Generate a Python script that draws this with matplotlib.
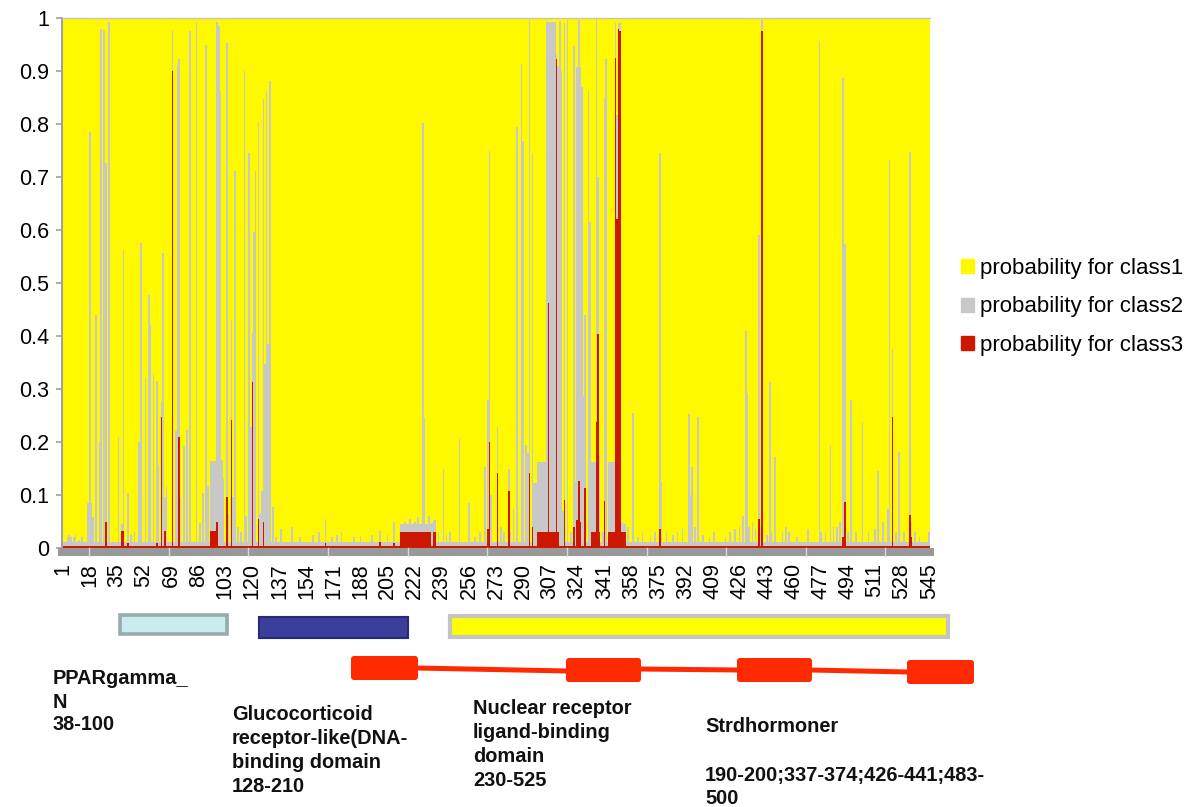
import numpy as np
import matplotlib
matplotlib.use("Agg")
import matplotlib.pyplot as plt
from matplotlib.patches import Rectangle, FancyBboxPatch
import matplotlib.transforms as mtransforms

plt.rcParams['font.family'] = ['Liberation Sans', 'DejaVu Sans']

# ---------------- data ----------------
n_positions = 545
tick_values = list(range(1, 546, 17))
series_names = ["probability for class1", "probability for class2", "probability for class3"]

# typical level of (class2 + class3) and class3 between the spikes
base_total = 0.012
base_red = 0.003

# flat runs: (first pos, last pos, class2+class3, class3)
block_start = [94, 213, 234, 299, 305, 333, 344, 353]
block_end = [97, 232, 235, 304, 310, 335, 347, 354]
block_total = [0.165, 0.045, 0.053, 0.163, 0.993, 0.163, 0.163, 0.045]
block_red = [0.033, 0.03, 0.03, 0.03, 0.03, 0.03, 0.03, 0.03]

# single positions: class2 + class3 (i.e. 1 - class1)
spike_pos = [4, 5, 6, 8, 9, 11, 13, 17, 18, 19, 20, 22, 24, 25, 27, 28, 30, 36, 38, 39, 42, 44, 46,
             49, 50, 53, 55, 56, 58, 60, 61, 63, 64, 65, 66, 70, 72, 73, 74, 75, 77, 79, 81, 85,
             87, 89, 91, 92, 98, 99, 100, 101, 102, 104, 105, 107, 108, 109, 111, 113, 115, 116,
             118, 119, 120, 121, 122, 124, 125, 126, 127, 128, 129, 130, 131, 133, 135,
             138, 145, 150, 158, 162, 166, 170, 173, 176, 184, 188, 195, 200, 205, 209,
             216, 219, 222, 224, 227, 228, 231, 233, 237, 240, 242, 244, 250, 256, 260, 263, 266,
             268, 269, 270, 274, 276, 278, 281, 282, 284, 286, 289, 290, 292, 293, 294, 296, 297,
             298, 311, 312, 313, 314, 315, 316, 318, 320, 322, 323, 324, 325, 326, 327, 328, 329,
             331, 332, 336, 337, 338, 340, 341, 342, 348, 349, 350, 351, 352, 356, 359, 362, 365,
             370, 373, 376, 377, 380, 384, 387, 390, 394, 395, 396, 398, 400, 403, 407, 410, 417,
             420, 423, 426, 428, 430, 431, 432, 434, 436, 438, 439, 440, 443, 445, 446, 448, 453,
             455, 457, 462, 469, 476, 477, 480, 483, 485, 487, 489, 491, 492, 494, 496, 499, 503,
             507, 511, 513, 516, 519, 520, 522, 524, 526, 529, 533, 534, 536, 539, 545]
spike_total = [0.02, 0.025, 0.02, 0.02, 0.025, 0.015, 0.02, 0.085, 0.784, 0.085, 0.058, 0.44, 0.20,
               0.98, 0.978, 0.727, 0.993, 0.21, 0.046, 0.563, 0.104, 0.025, 0.03,
               0.20, 0.575, 0.32, 0.477, 0.42, 0.327, 0.316, 0.156, 0.275, 0.557, 0.097, 0.115,
               0.978, 0.22, 0.912, 0.922, 0.097, 0.193, 0.222, 0.975, 0.993,
               0.048, 0.104, 0.95, 0.117, 0.993, 0.985, 0.863, 0.166, 0.13, 0.952, 0.064, 0.43,
               0.097, 0.711, 0.04, 0.03, 0.90, 0.06,
               0.746, 0.229, 0.406, 0.597, 0.712, 0.803, 0.065, 0.107, 0.847, 0.347, 0.862,
               0.385, 0.882, 0.078, 0.02,
               0.036, 0.04, 0.02, 0.025, 0.03, 0.055, 0.02, 0.025, 0.03, 0.02, 0.022, 0.025,
               0.032, 0.025, 0.05,
               0.05, 0.055, 0.05, 0.058, 0.802, 0.246, 0.061, 0.048, 0.03, 0.15, 0.025, 0.03,
               0.206, 0.085, 0.02, 0.03, 0.152,
               0.28, 0.75, 0.10, 0.228, 0.04, 0.03, 0.15, 0.03, 0.074, 0.794, 0.913, 0.767,
               0.194, 0.18, 0.997, 0.745, 0.123,
               0.123, 0.93, 0.91, 0.995, 0.90, 0.07, 0.991, 0.997, 0.03, 0.947, 0.127, 0.908,
               0.997, 0.908, 0.87, 0.286, 0.44,
               0.862, 0.616, 0.998, 0.70, 0.174, 0.03, 0.849, 0.922, 0.99, 0.817, 0.99, 0.99,
               0.05, 0.04, 0.254, 0.02, 0.03,
               0.025, 0.03, 0.746, 0.125, 0.03, 0.025, 0.03, 0.035, 0.252, 0.10, 0.153, 0.04,
               0.247, 0.025, 0.02, 0.03, 0.02,
               0.03, 0.035, 0.04, 0.06, 0.41, 0.293, 0.04, 0.05, 0.035, 0.59, 0.04, 0.997,
               0.025, 0.314, 0.03, 0.172, 0.03,
               0.04, 0.03, 0.02, 0.035, 0.957, 0.03, 0.03, 0.194, 0.04, 0.04, 0.05, 0.886,
               0.574, 0.03, 0.279, 0.03, 0.238,
               0.03, 0.035, 0.145, 0.05, 0.073, 0.732, 0.375, 0.03, 0.181, 0.03, 0.748, 0.05,
               0.03, 0.02, 0.03]

# single positions: class3
red_pos = [28, 38, 39, 42, 60, 63, 65, 70, 74, 98, 104, 107, 120, 124, 127, 166, 200, 209, 227,
           228, 268, 269, 274, 281, 294, 296, 306, 311, 312, 316, 322, 324, 325, 326, 329, 336,
           337, 338, 341, 348, 349, 350, 351, 352, 376, 438, 440, 491, 492, 522, 533, 534]
red_val = [0.05, 0.033, 0.033, 0.01, 0.01, 0.247, 0.033, 0.90, 0.209, 0.05, 0.097, 0.242, 0.313,
           0.055, 0.05, 0.01, 0.012, 0.01, 0.03,
           0.03, 0.035, 0.20, 0.141, 0.108, 0.141, 0.04, 0.462, 0.922, 0.03, 0.09, 0.04, 0.053,
           0.127, 0.05, 0.114, 0.238,
           0.404, 0.03, 0.089, 0.925, 0.62, 0.98, 0.975, 0.03, 0.036, 0.055, 0.975, 0.02, 0.086,
           0.247, 0.063, 0.02]

# ---------------- assemble series ----------------
positions = np.arange(1, n_positions + 1)
total = np.full(n_positions, base_total)
class3 = np.full(n_positions, base_red)
for a, b, t, r in zip(block_start, block_end, block_total, block_red):
    total[a - 1:b] = t
    class3[a - 1:b] = r
for p, t in zip(spike_pos, spike_total):
    total[p - 1] = t
for p, r in zip(red_pos, red_val):
    class3[p - 1] = r
class2 = np.clip(total - class3, 0, None)
class1 = 1 - class3 - class2

c_yellow = "#fff900"
c_gray = "#c8c8c8"
c_red = "#cc1800"

# ---------------- figure ----------------
W, H = 1200, 807
fig = plt.figure(figsize=(W / 100, H / 100), dpi=100)
ax = fig.add_axes([62 / W, 1 - 548 / H, (930 - 62) / W, 530 / H])

ax.bar(positions, class3, width=1.0, color=c_red, linewidth=0, antialiased=False)
ax.bar(positions, class2, width=1.0, bottom=class3, color=c_gray, linewidth=0, antialiased=False)
ax.bar(positions, class1, width=1.0, bottom=class3 + class2, color=c_yellow, linewidth=0,
       antialiased=False)

ax.set_xlim(0.5, n_positions + 0.5)
ax.set_ylim(0, 1)

yt = np.round(np.arange(0, 1.001, 0.1), 1)
ax.set_yticks(yt)
ax.set_yticklabels(["0" if v == 0 else ("1" if v == 1 else f"{v:.1f}") for v in yt])
ax.tick_params(axis='y', length=4, width=1.2, color="#a0a0a0", pad=5, labelsize=15.5)

ax.set_xticks(tick_values)
ax.set_xticklabels([str(v) for v in tick_values])
ax.tick_params(axis='x', length=0, pad=8, labelsize=15.5, labelrotation=90)
for lab in ax.get_xticklabels():
    lab.set_verticalalignment('top')
    lab.set_horizontalalignment('center')

ax.spines["right"].set_visible(False)
ax.spines["top"].set_color("#c4c4c4")
ax.spines["top"].set_linewidth(1.0)
ax.spines["left"].set_color("#a0a0a0")
ax.spines["left"].set_linewidth(1.4)
ax.spines["bottom"].set_position(("outward", 2.9))
ax.spines["bottom"].set_color("#999999")
ax.spines["bottom"].set_linewidth(5.8)

# light tick marks inside the grey axis band
trans = mtransforms.blended_transform_factory(ax.transData, ax.transAxes)
for xm in np.arange(17.5, n_positions, 50):
    ax.plot([xm, xm], [-8 / 530, 0], transform=trans, color="#d9d9d9", lw=1.0,
            clip_on=False, zorder=5)

handles = [Rectangle((0, 0), 1, 1, color=c) for c in (c_yellow, c_gray, c_red)]
ax.legend(handles, series_names, loc="center left",
          bbox_to_anchor=(961 / W, 1 - 307 / H), bbox_transform=fig.transFigure,
          frameon=False, fontsize=16, handlelength=0.6, handleheight=0.6,
          handletextpad=0.25, labelspacing=0.8, borderpad=0, borderaxespad=0)

# ---------------- domain annotation panel ----------------
ov = fig.add_axes([0, 0, 1, 1])
ov.set_xlim(0, W)
ov.set_ylim(H, 0)
ov.axis("off")
ov.patch.set_visible(False)

ov.add_patch(Rectangle((119.8, 614.8), 107.5, 19.5, facecolor="#c9ecef",
                       edgecolor="#97aaac", lw=2.6))
ov.add_patch(Rectangle((259, 617), 149, 21, facecolor="#3b3f9b", edgecolor="#262a78", lw=1.5))
ov.add_patch(Rectangle((449.5, 616), 498, 21, facecolor="#ffff00", edgecolor="#c4c4c4", lw=3.0))

red_boxes = [(351, 656, 67, 24), (566, 658, 75, 24), (737, 658, 75, 24), (907, 660, 67, 24)]
for (x0, y0, w, h) in red_boxes:
    ov.add_patch(FancyBboxPatch((x0 + 2, y0 + 2), w - 4, h - 4,
                                boxstyle="round,pad=2,rounding_size=3",
                                facecolor="#ff2a00", edgecolor="none"))
ov.plot([416, 568], [668, 671], color="#ff2a00", lw=3.6, solid_capstyle="butt")
ov.plot([639, 739], [669, 670], color="#ff2a00", lw=3.6, solid_capstyle="butt")
ov.plot([810, 909], [670, 672], color="#ff2a00", lw=3.6, solid_capstyle="butt")

text_blocks = [
    (53, [(676, "PPARgamma_"), (700, "N"), (723, "38-100")]),
    (232, [(713, "Glucocorticoid"), (737, "receptor-like(DNA-"), (761, "binding domain"),
           (785, "128-210")]),
    (473, [(706, "Nuclear receptor"), (730, "ligand-binding"), (754, "domain"),
           (778, "230-525")]),
    (705, [(725, "Strdhormoner"), (774, "190-200;337-374;426-441;483-"), (797, "500")]),
]
for x0, lines in text_blocks:
    for y0, s in lines:
        ov.text(x0, y0, s, fontsize=14.4, fontweight="bold", ha="left", va="center_baseline",
                color="#111111")

fig.savefig("out.png", dpi=100)
